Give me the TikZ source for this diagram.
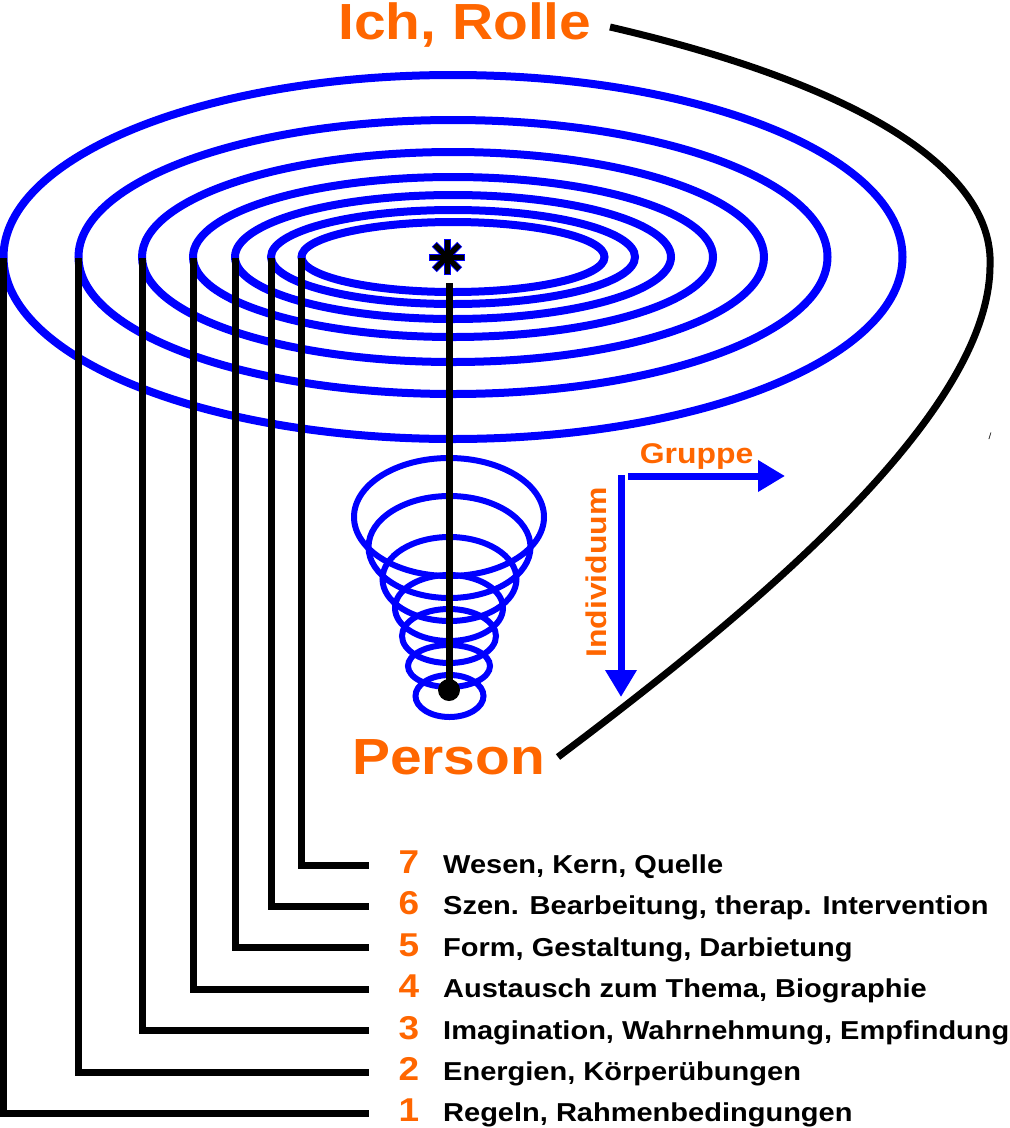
\documentclass[tikz,border=0pt]{standalone}
\usepackage{fontspec}
\newfontfamily\diagfont{Liberation Sans}[FakeStretch=1.12]
\usepackage{tikz}
\usetikzlibrary{arrows.meta}
\definecolor{ringblue}{HTML}{0000FF}
\definecolor{labelorange}{HTML}{FF6600}

\begin{document}
\begin{tikzpicture}[x=1pt,y=-1pt]
 	\useasboundingbox (0,0) rectangle (1010,1128);
 	\def \rowsevenht{865}
 	\def \rowsixht{906.4}
 	\def \rowfiveht{947.8}
 	\def \rowfourht{989.2}
 	\def \rowthreeht{1030.6}
 	\def \rowtwoht{1072}
 	\def \rowoneht{1113.4}
 	\def \leadend{369}
 	\tikzstyle{ring}=[draw=ringblue,line width=8pt]
 	\tikzstyle{cone-ring}=[draw=ringblue,line width=6pt]
 	\tikzstyle{lead}=[draw=black,line width=7pt]
 	\tikzstyle{star-rim}=[draw=ringblue,line width=7pt]
 	\tikzstyle{star-arm}=[draw=black,line width=5pt]
 	\tikzstyle{axis-arrow}=[draw=ringblue,line width=7pt,-{Triangle[length=27pt,width=30pt]}]
 	\tikzstyle{num} = [font=\diagfont\bfseries\fontsize{33pt}{33pt}\selectfont,text=labelorange,anchor=base,inner sep=0pt]
 	\tikzstyle{annot} = [font=\diagfont\bfseries\fontsize{25.9pt}{30pt}\selectfont,anchor=base west,inner sep=0pt]
 	\tikzstyle{title} = [font=\diagfont\bfseries\fontsize{50.8pt}{55pt}\selectfont,text=labelorange,anchor=base,inner sep=0pt]
 	\tikzstyle{axis-label} = [font=\diagfont\bfseries\fontsize{28.5pt}{30pt}\selectfont,text=labelorange,inner sep=0pt]
 	% rings of the role
 	\coordinate (ring-centre) at (453,257);
 	\draw[ring] (ring-centre) ellipse [x radius=449.5, y radius=182];
 	\draw[ring] (ring-centre) ellipse [x radius=374.5, y radius=137];
 	\draw[ring] (ring-centre) ellipse [x radius=311, y radius=105];
 	\draw[ring] (ring-centre) ellipse [x radius=260, y radius=80];
 	\draw[ring] (ring-centre) ellipse [x radius=218, y radius=62];
 	\draw[ring] (ring-centre) ellipse [x radius=182, y radius=47];
 	\draw[ring] (ring-centre) ellipse [x radius=151.5, y radius=35];
 	% cone of the person
 	\draw[cone-ring] (449,517) ellipse [x radius=95, y radius=59];
 	\draw[cone-ring] (449.5,547) ellipse [x radius=81, y radius=51];
 	\draw[cone-ring] (449.5,579) ellipse [x radius=67, y radius=42];
 	\draw[cone-ring] (449,608) ellipse [x radius=54, y radius=33];
 	\draw[cone-ring] (449,636) ellipse [x radius=47, y radius=27];
 	\draw[cone-ring] (449,666) ellipse [x radius=41, y radius=21];
 	\draw[cone-ring] (449.5,696) ellipse [x radius=34, y radius=21];
 	% star and axis
 	\coordinate (star) at (447,257);
 	\draw[star-rim] (star) +(0:18) -- +(180:18);
 	\draw[star-rim] (star) +(45:18) -- +(225:18);
 	\draw[star-rim] (star) +(90:18) -- +(270:18);
 	\draw[star-rim] (star) +(135:18) -- +(315:18);
 	\draw[star-arm] (star) +(0:17) -- +(180:17);
 	\draw[star-arm] (star) +(45:17) -- +(225:17);
 	\draw[star-arm] (star) +(90:17) -- +(270:17);
 	\draw[star-arm] (star) +(135:17) -- +(315:17);
 	\coordinate (axis-top) at (449,283);
 	\node[circle,fill=black,inner sep=0pt,minimum size=22pt] (core) at (449,690) {};
 	\draw[lead] (axis-top) -- (core.center);
 	% titles
 	\node[title] (rolle) at (465,39.5) {Ich, Rolle};
 	\node[title] (person) at (448.5,774) {Person};
 	\coordinate (arc-start) at (610,27);
 	\coordinate (arc-mid) at (990,267);
 	\coordinate (arc-end) at (558,757);
 	\draw[draw=black,line width=7pt] (arc-start) .. controls (860,85) and (995,170) .. (arc-mid)
 		.. controls (988,420) and (740,620) .. (arc-end);
 	\node[inner sep=0pt,font=\diagfont\fontsize{9pt}{9pt}\selectfont] (tick) at (990,436) {/};
 	% group and individual axes
 	\coordinate (g-start) at (628,476);
 	\coordinate (g-end) at (785,476);
 	\coordinate (i-start) at (621,475);
 	\coordinate (i-end) at (621,697);
 	\draw[axis-arrow] (g-start) -- (g-end);
 	\draw[axis-arrow] (i-start) -- (i-end);
 	\node[axis-label,anchor=base] (gruppe-label) at (696.5,463) {Gruppe};
 	\node[axis-label,rotate=90] (individuum-label) at (596,572.5) {Individuum};
 	% leads to the levels
 	\coordinate (l1-top) at (3.5,258);
 	\coordinate (l2-top) at (78.5,258);
 	\coordinate (l3-top) at (142,258);
 	\coordinate (l4-top) at (193,258);
 	\coordinate (l5-top) at (235,258);
 	\coordinate (l6-top) at (271,258);
 	\coordinate (l7-top) at (301.5,258);
 	\coordinate (l1-end) at (\leadend,\rowoneht);
 	\coordinate (l2-end) at (\leadend,\rowtwoht);
 	\coordinate (l3-end) at (\leadend,\rowthreeht);
 	\coordinate (l4-end) at (\leadend,\rowfourht);
 	\coordinate (l5-end) at (\leadend,\rowfiveht);
 	\coordinate (l6-end) at (\leadend,\rowsixht);
 	\coordinate (l7-end) at (\leadend,\rowsevenht);
 	\draw[lead] (l1-top) |- (l1-end);
 	\draw[lead] (l2-top) |- (l2-end);
 	\draw[lead] (l3-top) |- (l3-end);
 	\draw[lead] (l4-top) |- (l4-end);
 	\draw[lead] (l5-top) |- (l5-end);
 	\draw[lead] (l6-top) |- (l6-end);
 	\draw[lead] (l7-top) |- (l7-end);
 	% level labels
 	\node[num] (n7) at (409,\rowsevenht+8.5) {7};
 	\node[num] (n6) at (409,\rowsixht+8.5) {6};
 	\node[num] (n5) at (409,\rowfiveht+8.5) {5};
 	\node[num] (n4) at (409,\rowfourht+8.5) {4};
 	\node[num] (n3) at (409,\rowthreeht+8.5) {3};
 	\node[num] (n2) at (409,\rowtwoht+8.5) {2};
 	\node[num] (n1) at (409,\rowoneht+8.5) {1};
 	\node[annot] (t7) at (443,\rowsevenht+8.5) {Wesen, Kern, Quelle};
 	\node[annot] (t6) at (443,\rowsixht+8.5) {Szen. Bearbeitung, therap. Intervention};
 	\node[annot] (t5) at (443,\rowfiveht+8.5) {Form, Gestaltung, Darbietung};
 	\node[annot] (t4) at (443,\rowfourht+8.5) {Austausch zum Thema, Biographie};
 	\node[annot] (t3) at (443,\rowthreeht+8.5) {Imagination, Wahrnehmung, Empfindung};
 	\node[annot] (t2) at (443,\rowtwoht+8.5) {Energien, Körperübungen};
 	\node[annot] (t1) at (443,\rowoneht+8.5) {Regeln, Rahmenbedingungen};
\end{tikzpicture}
\end{document}
